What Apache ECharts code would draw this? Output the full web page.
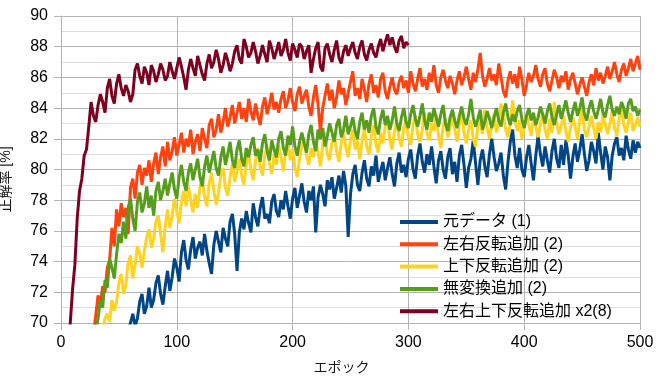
<!DOCTYPE html>
<html><head><meta charset="utf-8">
<script src="https://cdn.jsdelivr.net/npm/echarts@6/dist/echarts.min.js"></script>
<style>html,body{margin:0;padding:0;background:#fff}#c{width:662px;height:379px}</style>
</head><body><div id="c"></div>
<script>
// Epochs: 0,2,4,...,500 (values below sampled every 2 epochs)
const EPOCH_START = 0, EPOCH_STEP = 2;
const seriesNames = ['元データ (1)','左右反転追加 (2)','上下反転追加 (2)','無変換追加 (2)','左右上下反転追加 x2(8)'];
const blue = [50,51,52,53,54,55,55.5,56.5,57,58,58.5,59.5,60,61,61.5,62,62.5,63,63.5,64,64.5,65,65.5,66,66.5,67,67.5,68,68.5,69.5,
70.0,70.6,69.8,70.3,71.4,71.9,70.6,71.1,72.3,71.0,
71.5,72.6,73.1,71.9,71.2,72.4,73.4,72.1,73.0,74.2,
73.6,72.7,74.6,75.4,74.1,73.5,74.8,75.6,74.2,74.9,
75.3,74.4,75.8,74.7,73.9,73.2,75.1,76.0,75.3,74.6,
76.2,75.5,75.0,76.6,77.1,75.8,73.4,75.9,76.8,76.1,
77.3,76.5,75.9,77.8,76.9,76.3,77.5,78.2,76.8,77.1,
76.5,77.9,78.4,77.3,76.9,78.0,77.4,78.6,77.6,76.8,
78.1,78.8,77.5,78.3,79.1,77.9,77.2,78.6,78.0,78.9,
75.9,78.2,79.0,78.4,77.6,79.3,78.7,79.5,78.1,78.8,
79.6,78.5,79.9,78.9,75.6,78.4,79.7,80.3,79.0,78.6,
79.8,80.6,79.4,78.9,80.2,79.6,80.9,79.2,79.9,80.5,
79.3,80.1,80.8,79.7,78.9,80.4,81.1,79.8,80.3,79.5,
80.7,81.3,80.0,79.4,80.9,81.7,80.5,79.8,81.0,80.3,
81.5,80.2,79.1,80.6,81.2,80.0,79.4,80.8,81.4,79.7,
80.5,79.2,80.9,81.6,80.3,78.8,80.1,80.7,81.9,80.4,
79.0,80.6,81.3,80.2,79.5,81.0,82.0,80.8,79.9,80.4,
81.1,79.6,78.7,80.5,81.8,82.6,80.9,80.1,81.4,80.0,
79.5,80.8,81.6,80.4,79.3,80.9,82.2,81.0,80.2,81.5,
80.6,79.8,81.2,82.0,80.7,80.1,81.6,80.3,81.9,80.9,
79.4,80.8,81.7,80.5,81.3,82.3,81.0,79.9,80.6,81.8,
81.2,80.4,82.4,81.1,80.0,81.5,80.8,79.3,80.9,81.7,
82.1,80.9,81.4,80.6,82.2,81.3,80.7,81.9,81.1,81.8,
81.4];
const orange = [55,56.5,58,59.5,61,62,63,64,65,66,66.5,67.3,68,68.8,69.3,
70.5,71.8,71.2,72.4,72.0,73.6,74.1,76.2,75.0,77.4,
76.3,77.8,76.9,77.5,75.8,78.8,79.4,78.1,79.8,80.3,
79.0,80.1,79.6,80.6,79.2,80.4,81.1,79.7,80.8,81.5,
80.2,81.8,80.6,81.2,82.1,80.9,81.6,82.4,81.1,82.0,
81.5,82.6,81.0,81.8,82.3,81.2,82.7,82.0,81.4,82.9,
83.3,82.1,82.6,83.6,82.4,83.1,84.0,82.8,83.4,84.2,
83.0,83.7,84.4,83.3,84.0,83.1,84.6,83.8,83.2,84.3,
83.5,82.9,84.1,84.7,83.6,84.2,85.0,83.9,84.4,83.7,
84.6,85.1,84.0,84.5,85.3,84.4,83.8,84.9,85.4,84.3,
84.8,85.2,84.1,83.5,84.7,85.5,84.2,82.5,84.0,84.8,
85.6,84.5,85.2,84.0,84.7,85.8,84.9,85.3,84.2,85.0,
85.7,86.4,84.8,85.3,84.6,85.9,85.2,84.4,85.6,86.2,
85.0,85.5,84.7,85.9,86.3,85.1,84.6,85.4,86.0,85.2,
84.9,85.7,86.1,85.3,85.8,85.0,86.4,85.6,85.1,85.9,
86.6,85.4,85.9,85.2,86.3,85.7,86.8,85.5,85.0,86.0,
86.5,85.8,85.3,86.1,85.6,84.9,85.8,86.4,85.5,86.0,
86.7,85.9,85.2,86.3,85.7,86.5,87.6,86.1,85.4,85.9,
86.6,85.8,86.2,85.5,86.9,86.0,85.1,84.7,85.8,86.4,
85.6,86.2,85.3,86.7,85.9,84.8,85.5,86.3,85.7,86.1,
86.8,85.9,85.4,86.2,86.6,85.6,85.1,85.8,86.5,86.0,
85.3,86.1,85.7,86.4,85.2,85.9,86.3,85.6,84.9,85.5,
86.0,85.4,84.8,85.7,86.2,85.5,86.6,85.8,86.3,85.6,
86.1,86.7,85.9,86.4,87.0,86.2,85.7,86.5,86.9,86.1,
86.6,87.2,86.4,86.9,87.4,86.5];
const yellow = [55,56,57,58,59,60,61,61.8,62.5,63.2,64,64.8,65.5,66.3,67,67.5,68,68.8,69.5,
70.3,70.6,70.1,71.5,70.8,71.4,72.6,73.2,71.9,72.5,
73.9,74.4,72.9,73.8,75.0,74.5,73.6,74.7,75.6,76.1,
74.9,75.5,76.6,77.0,75.8,74.6,76.3,77.4,76.2,77.0,
78.1,77.3,76.5,77.9,78.6,77.6,78.9,78.0,77.2,78.4,
77.5,78.9,79.4,78.2,77.6,79.1,79.8,78.6,77.7,78.5,
79.6,80.1,78.8,78.3,79.5,80.4,79.2,79.9,80.7,79.6,
79.0,80.3,81.1,80.0,79.3,80.6,81.4,80.2,79.6,80.9,
81.5,80.4,79.7,81.0,80.3,81.6,80.8,79.9,81.2,81.8,
80.6,81.3,80.1,79.5,80.7,81.5,82.1,80.9,80.3,81.4,
80.8,81.9,81.1,80.2,81.6,82.4,81.0,80.6,81.8,82.3,
81.2,80.5,81.7,82.5,81.4,80.8,82.0,82.6,81.3,81.9,
80.7,81.8,82.7,81.5,81.0,82.2,82.9,81.6,81.1,82.4,
81.7,82.8,83.4,81.9,81.3,82.5,83.1,82.0,81.5,82.7,
83.2,82.1,81.6,82.9,83.5,82.3,81.8,82.6,83.7,82.4,
81.9,83.0,82.5,83.6,82.2,81.4,82.8,83.3,82.1,82.7,
83.5,82.6,81.8,82.9,83.8,82.4,81.7,82.6,83.2,82.0,
81.5,82.8,83.4,82.3,83.9,82.7,82.0,82.9,83.6,82.4,
83.1,84.3,83.5,82.6,82.1,83.0,84.5,83.3,82.5,83.2,
82.0,82.7,83.6,82.9,82.2,83.4,82.8,82.1,83.0,83.7,
82.6,82.0,83.3,82.4,84.4,83.1,82.3,82.9,83.5,82.5,
81.8,82.7,83.4,82.8,82.0,83.2,83.9,82.6,82.1,82.8,
83.5,82.7,82.0,83.1,82.4,83.6,82.9,82.3,83.0,83.8,
82.7,82.2,83.3,84.0,82.9,82.4,83.1,83.7,82.5,82.9,
83.4,82.8];
const green = [55,56.5,58,59,60,61,62,63,64,64.8,65.5,66.3,67,67.8,68.5,69.4,
70.3,71.5,71.0,72.8,72.3,74.2,73.6,72.9,74.5,75.8,
75.2,76.6,75.5,77.5,78.1,76.8,76.0,77.9,78.5,77.2,
77.8,78.9,77.5,78.3,77.0,78.6,79.2,78.0,78.6,79.4,
78.3,79.1,79.8,78.7,78.1,79.5,80.3,79.2,78.6,79.8,
80.4,79.3,80.0,80.7,79.5,78.9,80.2,80.9,79.8,80.5,
81.2,80.1,79.6,80.8,81.5,80.3,81.0,81.8,80.6,80.1,
81.3,81.9,80.7,80.2,81.4,80.8,81.6,82.1,80.9,81.3,
80.5,81.7,82.3,81.2,80.6,81.9,81.3,80.8,82.0,82.5,
81.4,80.9,82.2,81.6,82.8,81.5,80.9,81.8,82.4,81.7,
81.1,82.3,82.9,81.8,81.2,82.6,82.0,82.7,81.5,82.2,
83.0,82.4,81.8,82.9,83.3,82.1,82.6,83.5,82.3,82.8,
83.4,82.5,82.0,83.1,83.7,82.6,83.2,82.4,83.5,84.0,
82.8,82.3,83.3,83.9,82.9,83.5,82.6,83.2,84.1,83.0,
82.5,83.4,84.0,83.1,82.7,83.6,84.2,83.3,82.8,83.5,
84.3,83.2,82.6,83.7,83.1,84.0,83.4,82.8,83.6,84.2,
83.0,82.5,83.4,83.9,83.2,82.7,83.5,84.1,83.3,82.9,
83.6,84.6,83.4,82.8,83.3,83.9,82.6,83.1,83.8,83.3,
82.7,83.4,84.0,83.2,82.8,83.7,84.3,83.4,82.9,83.6,
83.1,83.8,84.2,83.3,82.7,83.5,84.0,83.2,83.7,82.9,
83.4,84.1,83.6,83.0,83.8,84.3,83.4,82.9,83.6,84.2,
83.3,83.9,84.5,83.7,83.1,83.8,84.4,83.5,84.0,84.7,
83.6,83.2,84.0,84.5,83.8,83.3,83.9,84.6,83.7,83.4,
84.2,84.8,83.9,83.5,84.1,83.6,84.4,84.0,83.3,84.3,
84.6,83.8,84.1,83.5,83.9];
const darkred = [60,62.5,65,67.5,
70.0,72.2,73.8,76.8,78.6,79.4,80.9,81.3,82.8,84.4,
83.5,83.1,84.2,84.9,84.4,83.7,85.3,85.9,84.8,84.3,
85.6,86.2,85.3,84.8,85.5,85.1,84.4,84.9,86.5,86.9,
86.1,85.6,86.7,86.3,85.5,86.8,86.4,85.7,86.2,86.9,
86.5,85.8,86.1,87.0,86.4,85.9,86.6,87.3,86.7,86.0,
85.2,86.5,87.2,86.6,86.1,87.4,86.8,86.2,85.8,86.9,
87.5,86.6,87.0,87.8,87.2,86.3,86.8,87.6,87.1,86.4,
86.9,87.7,88.1,87.2,86.9,88.5,88.0,87.3,87.6,88.3,
87.7,86.9,87.4,88.1,87.5,87.0,88.4,87.9,87.2,87.7,
88.3,87.4,87.8,88.5,87.6,87.1,88.2,87.8,87.3,88.2,
88.0,87.2,87.7,88.1,86.3,87.2,87.9,88.3,86.7,86.4,
87.9,88.2,87.5,87.0,87.8,88.4,87.3,86.9,87.7,88.1,
87.4,87.9,88.3,87.6,87.2,88.0,88.4,87.5,87.1,87.8,
88.2,87.6,87.3,88.0,88.5,87.7,88.3,88.8,88.1,88.6,
88.0,87.6,88.4,88.7,87.9,88.3,88.1];
const colors = ['#004586','#ff420e','#ffd320','#579d1c','#7e0021'];
const xTicks = {min:0, max:500, interval:100};
const yTicks = {min:70, max:90, interval:2};

const allValues = [blue, orange, yellow, green, darkred];
const FONT = "'Liberation Sans','Noto Sans CJK JP',sans-serif";
const chart = echarts.init(document.getElementById('c'), null, {renderer:'canvas'});
chart.setOption({
  animation:false,
  color: colors,
  textStyle:{fontFamily:FONT},
  grid:{left:61, right:22, top:16, bottom:56, containLabel:false, outerBoundsMode:'none'},
  legend:{
    orient:'vertical', left:400, top:214, icon:'rect', itemWidth:38, itemHeight:4, itemGap:6.3,
    padding:0, data: seriesNames,
    textStyle:{fontFamily:FONT, fontSize:16, color:'#000', lineHeight:16}
  },
  xAxis:{
    type:'value', min:xTicks.min, max:xTicks.max, interval:xTicks.interval,
    name:'エポック', nameLocation:'middle', nameGap:38,
    nameTextStyle:{fontFamily:FONT, fontSize:14, color:'#1a1a1a', padding:[0,18,0,0]},
    axisLine:{show:true, lineStyle:{color:'#b3b3b3', width:1}},
    axisTick:{show:true, length:7, inside:false, lineStyle:{color:'#b3b3b3'}},
    axisLabel:{fontFamily:FONT, fontSize:16, color:'#000', margin:12},
    splitLine:{show:true, lineStyle:{color:'#b3b3b3', width:1}}
  },
  yAxis:{
    type:'value', min:yTicks.min, max:yTicks.max, interval:yTicks.interval,
    name:'正解率 [%]', nameLocation:'middle', nameGap:48, nameRotate:90,
    nameTextStyle:{fontFamily:FONT, fontSize:14, color:'#1a1a1a', padding:[0,20,0,0]},
    axisLine:{show:true, lineStyle:{color:'#b3b3b3', width:1}},
    axisTick:{show:true, length:7, lineStyle:{color:'#b3b3b3'}},
    axisLabel:{fontFamily:FONT, fontSize:16, color:'#000', margin:13},
    splitLine:{show:true, lineStyle:{color:'#b3b3b3', width:1}},
    minorTick:{show:false, splitNumber:2},
    minorSplitLine:{show:true, lineStyle:{color:'#dddddd', width:1}}
  },
  series: allValues.map((vals, k) => ({
    name: seriesNames[k], type:'line', showSymbol:false, symbol:'none',
    clip:true, lineStyle:{width:3, color:colors[k]}, itemStyle:{color:colors[k]},
    data: vals.map((v,i) => [EPOCH_START + i*EPOCH_STEP, v])
  }))
});
</script></body></html>
